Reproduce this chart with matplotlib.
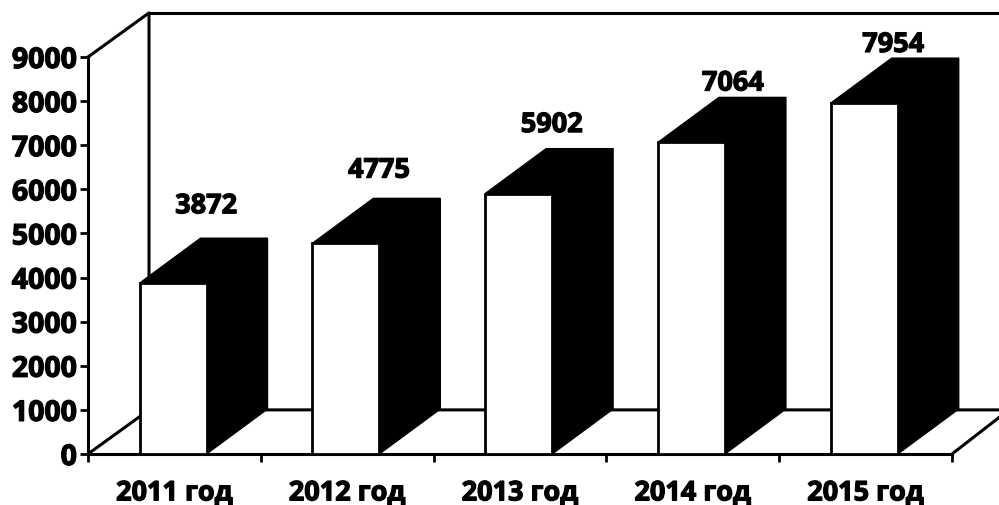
import matplotlib
matplotlib.use("Agg")
import matplotlib.pyplot as plt
from matplotlib.patches import Polygon
import matplotlib.patheffects as pe

categories = ["2011 год", "2012 год", "2013 год", "2014 год", "2015 год"]
values = [3872, 4775, 5902, 7064, 7954]
y_ticks = [0, 1000, 2000, 3000, 4000, 5000, 6000, 7000, 8000, 9000]

W, H = 999, 506
plt.rcParams['font.family'] = ['Open Sans', 'DejaVu Sans']
fig = plt.figure(figsize=(W / 100, H / 100), dpi=100, facecolor='white')
L, R, T, B = 88, 952, 58, 455
ax = fig.add_axes([L / W, 1 - B / H, (R - L) / W, (B - T) / H])
ax.set_xlim(0, 5)
ax.set_ylim(0, 9000)
ax.patch.set_visible(False)

UX = (R - L) / 5          # pixels per category
DX = 61 / UX              # depth of the 3D projection
DY = 1020
BW = 67 / UX
LW = 2.2
bold = [pe.withStroke(linewidth=0.9, foreground='k')]
for s in ('top', 'right'):
    ax.spines[s].set_visible(False)
for s in ('left', 'bottom'):
    ax.spines[s].set_linewidth(LW)

# walls and floor
ax.plot([0, DX, DX, 5 + 60 / UX], [9000, 9000 + 1000, 1000, 1000], color='k', lw=LW, clip_on=False)
ax.plot([DX, 5 + 60 / UX], [10000, 10000], color='k', lw=LW, clip_on=False)
ax.plot([0, DX], [0, 1000], color='k', lw=LW, clip_on=False)
ax.plot([5, 5 + 50 / UX], [0, 880], color='k', lw=LW, clip_on=False)

# label offsets from the back top centre of each bar, in points
label_dx = [2, 2, 2, 8, -1]
label_dy = [23, 20, 17, 10, 9.5]

for i, v in enumerate(values):
    x0 = i + 0.5 - BW / 2 - 1.4 / UX
    x1 = x0 + BW
    ax.add_patch(Polygon([(x1, 0), (x1 + DX, DY), (x1 + DX, v + DY), (x1, v)],
                         fc='k', ec='k', lw=1, clip_on=False, zorder=3))
    ax.add_patch(Polygon([(x0, v), (x0 + DX, v + DY), (x1 + DX, v + DY), (x1, v)],
                         fc='k', ec='k', lw=1, clip_on=False, zorder=3))
    ax.bar(x0, v, width=BW, align='edge', fc='white', ec='k', lw=2.0, zorder=4, clip_on=False)
    ax.annotate(str(v), xy=(x0 + BW / 2 + DX / 2, v + DY),
                xytext=(label_dx[i], label_dy[i]), textcoords='offset points',
                ha='center', va='center', fontsize=19.5, fontweight='bold', zorder=5,
                path_effects=bold)

ax.set_yticks(y_ticks)
ax.set_xticks(range(6))
ax.set_xticklabels([])
ax.set_xticks([i + 0.5 for i in range(5)], minor=True)
ax.set_xticklabels(categories, minor=True, fontsize=19.5, fontweight='bold', path_effects=bold)
ax.tick_params(axis='x', which='minor', length=0, pad=19)
ax.tick_params(axis='x', which='major', length=6, width=2)
ax.tick_params(axis='y', length=6, width=2, pad=2, labelsize=20.5)
for t in ax.get_yticklabels():
    t.set_fontweight('bold')
    t.set_path_effects(bold)

fig.savefig('out.png', dpi=100, facecolor='white')
